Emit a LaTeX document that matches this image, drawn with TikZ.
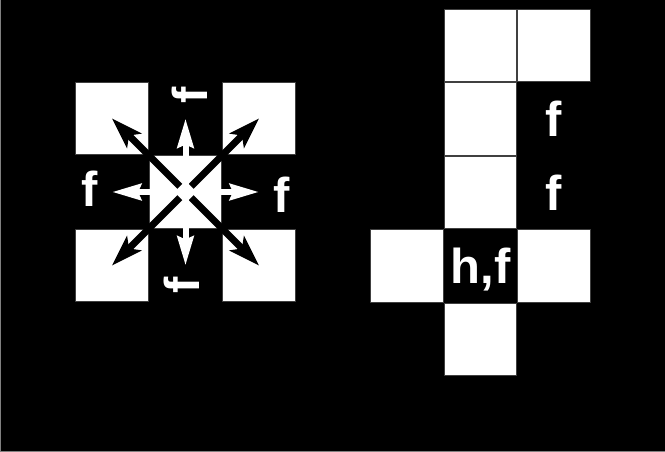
\documentclass[tikz,border=0pt]{standalone}
\usepackage{fontspec}
\setmainfont{Liberation Sans}
\usetikzlibrary{arrows.meta, positioning}
\tikzset{
	cell/.style ={rectangle, draw=black!75, line width=0.6pt, fill=white, minimum size=72.5pt, inner sep=0pt},
	hole/.style ={cell, draw=black, fill=black, text=white, text depth=0pt, font=\fontsize{49}{50}\selectfont\bfseries},
	lbl/.style  ={text=white, inner sep=0pt, font=\fontsize{49}{50}\selectfont\bfseries},
	% arrows out of the centre cell
	diagarrow/.style={line width=7pt, black, shorten <=8pt, -{Stealth[length=31pt, width=20pt, inset=7pt]}},
	axarrow/.style  ={line width=6pt, white, -{Stealth[length=29pt, width=16pt, inset=3pt]}},
}

\begin{document}
\begin{tikzpicture}[x=1pt, y=1pt, node distance=0.4pt]
	\useasboundingbox (0,0) rectangle (665,452);
	\fill[black] (0,0) rectangle (665,452);
	\draw[gray, line width=1pt] (0,0) rectangle (665,452);
	% left: centre cell with its eight neighbours
	\node[cell] (c) at (185.5,260) {};
	\node[hole, above=of c] (t) {};
	\node[hole, below=of c] (b) {};
	\node[hole, left=of c] (l) {};
	\node[hole, right=of c] (r) {};
	\node[cell, left=of t] (tl) {};
	\node[cell, right=of t] (tr) {};
	\node[cell, left=of b] (bl) {};
	\node[cell, right=of b] (br) {};
	\foreach \n in {tl,tr,bl,br} \draw[diagarrow] (c.center) -- (\n.center);
	\foreach \n in {t,b,l,r} \draw[axarrow] (c.center) -- (\n.center);
	\node[lbl, anchor=base] (fl) at (90,245) {f};
	\node[lbl, anchor=base] (fr) at (282,239) {f};
	\node[lbl, rotate=90] (ft) at (190,357) {f};
	\node[lbl, rotate=90] (fb) at (182,167) {f};
	% right: column of cells
	\node[hole] (hf) at (480.5,186) {h,f};
	\node[cell, above=of hf] (m2) {};
	\node[cell, above=of m2] (m1) {};
	\node[cell, above=of m1] (top) {};
	\node[cell, right=of top] (topr) {};
	\node[hole, right=of m1] (f1) {f};
	\node[hole, right=of m2] (f2) {f};
	\node[cell, left=of hf] (w) {};
	\node[cell, right=of hf] (e) {};
	\node[cell, below=of hf] (s) {};
\end{tikzpicture}
\end{document}
